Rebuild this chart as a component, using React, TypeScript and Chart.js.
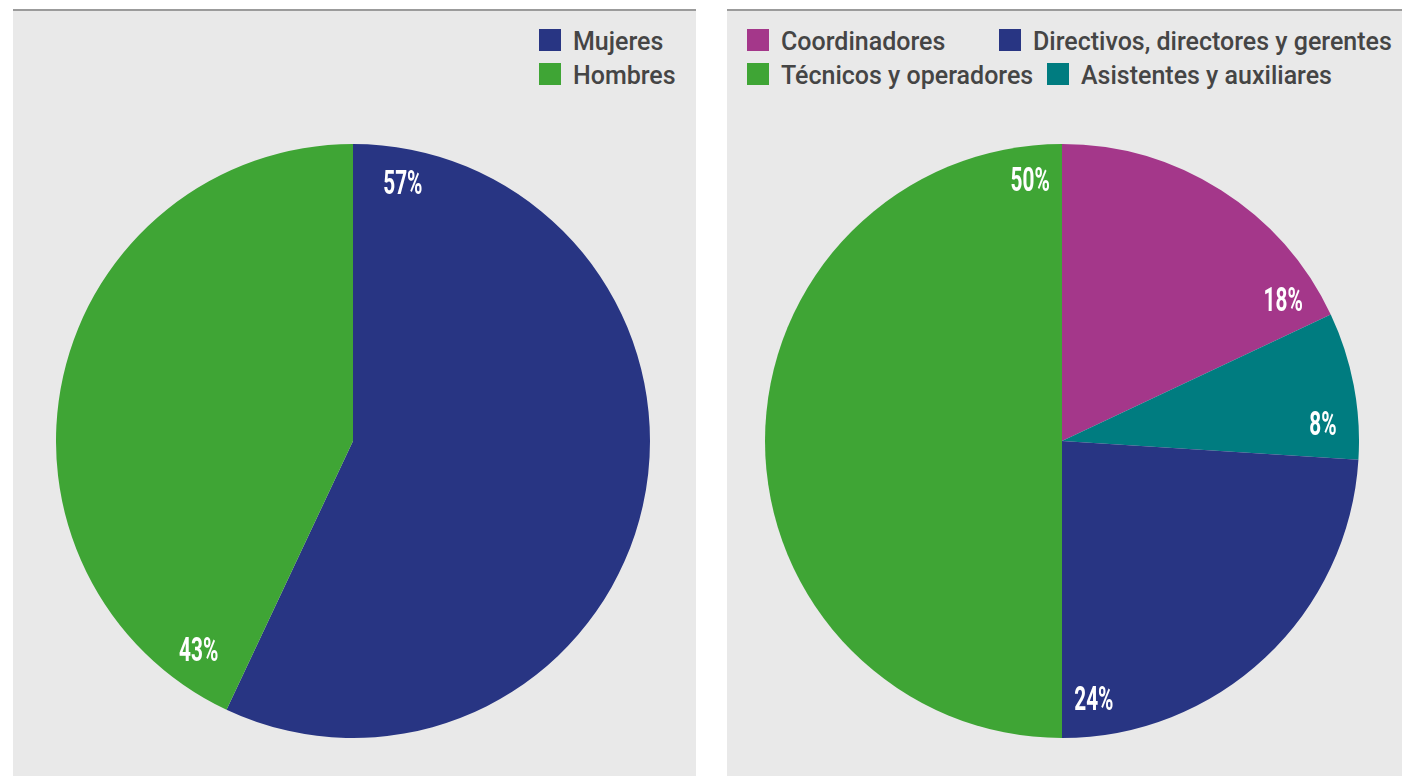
import React, { useEffect, useRef } from "react";
import { Chart, registerables } from "chart.js";

Chart.register(...registerables);

const genderLabels = ["Mujeres", "Hombres"];
const genderValues = [57, 43];
const genderColors = ["#283583", "#3fa535"];

const roleLabels = ["Coordinadores", "Asistentes y auxiliares", "Directivos, directores y gerentes", "Técnicos y operadores"];
const roleValues = [18, 8, 24, 50];
const roleColors = ["#a4378a", "#007c80", "#283583", "#3fa535"];

const pctLabelPlugin = {
  id: "pctLabels",
  afterDatasetsDraw(chart: any, _args: any, opts: any) {
    const ctx = chart.ctx;
    const meta = chart.getDatasetMeta(0);
    const data = chart.data.datasets[0].data;
    const off = ((opts.offsetDeg || 8) * Math.PI) / 180;
    meta.data.forEach((arc: any, i: number) => {
      const p = arc.getProps(["x", "y", "startAngle", "endAngle", "outerRadius"], true);
      const ang = opts.anchor === "start" ? p.startAngle + off : p.endAngle - off;
      const r = p.outerRadius * (opts.radiusFactor || 0.88);
      const x = p.x + Math.cos(ang) * r;
      const y = p.y + Math.sin(ang) * r;
      ctx.save();
      ctx.translate(x, y);
      ctx.scale(0.63, 1);
      ctx.font = "bold 33px Roboto";
      ctx.fillStyle = "#ffffff";
      ctx.textAlign = "center";
      ctx.textBaseline = "middle";
      ctx.fillText(`${data[i]}%`, 0, 1);
      ctx.restore();
    });
  },
};

function PieCanvas(props: { labels: string[]; values: number[]; colors: string[]; anchor: string; offsetDeg: number; left: number }) {
  const ref = useRef<HTMLCanvasElement | null>(null);
  useEffect(() => {
    if (!ref.current) return;
    const chart = new Chart(ref.current, {
      type: "pie",
      data: {
        labels: props.labels,
        datasets: [{ data: props.values, backgroundColor: props.colors, borderWidth: 0 }],
      },
      options: {
        responsive: false,
        animation: false,
        layout: { padding: 0 },
        plugins: {
          legend: { display: false },
          tooltip: { enabled: false },
          pctLabels: { anchor: props.anchor, offsetDeg: props.offsetDeg, radiusFactor: 0.88 },
        } as any,
      },
      plugins: [pctLabelPlugin],
    });
    return () => chart.destroy();
  }, []);
  return (
    <canvas
      ref={ref}
      width={594}
      height={594}
      style={{ position: "absolute", left: props.left, top: 144, width: 594, height: 594 }}
    />
  );
}

const textStyle: React.CSSProperties = {
  position: "absolute",
  fontFamily: "Roboto, sans-serif",
  fontWeight: 500,
  fontSize: 25,
  color: "#454545",
  whiteSpace: "nowrap",
  lineHeight: "22px",
};

function LegendItem(props: { left: number; top: number; color: string; text: string }) {
  return (
    <>
      <div style={{ position: "absolute", left: props.left, top: props.top, width: 22, height: 22, background: props.color }} />
      <div style={{ ...textStyle, left: props.left + 34, top: props.top + 2 }}>{props.text}</div>
    </>
  );
}

export default function App() {
  return (
    <div style={{ position: "absolute", left: 0, top: 0, width: 1402, height: 776, background: "#ffffff", overflow: "hidden" }}>
      <div style={{ position: "absolute", left: 13, top: 9, width: 683, height: 767, background: "#e9e9e9", borderTop: "2px solid #9b9b9b", boxSizing: "border-box" }} />
      <div style={{ position: "absolute", left: 727, top: 9, width: 675, height: 767, background: "#e9e9e9", borderTop: "2px solid #9b9b9b", boxSizing: "border-box" }} />
      <LegendItem left={539} top={29} color={genderColors[0]} text={genderLabels[0]} />
      <LegendItem left={539} top={63} color={genderColors[1]} text={genderLabels[1]} />
      <LegendItem left={747} top={29} color={roleColors[0]} text={roleLabels[0]} />
      <LegendItem left={999} top={29} color={roleColors[2]} text={roleLabels[2]} />
      <LegendItem left={747} top={63} color={roleColors[3]} text={roleLabels[3]} />
      <LegendItem left={1047} top={63} color={roleColors[1]} text={roleLabels[1]} />
      <PieCanvas labels={genderLabels} values={genderValues} colors={genderColors} anchor="start" offsetDeg={11} left={56} />
      <PieCanvas labels={roleLabels} values={roleValues} colors={roleColors} anchor="end" offsetDeg={7} left={765} />
    </div>
  );
}
